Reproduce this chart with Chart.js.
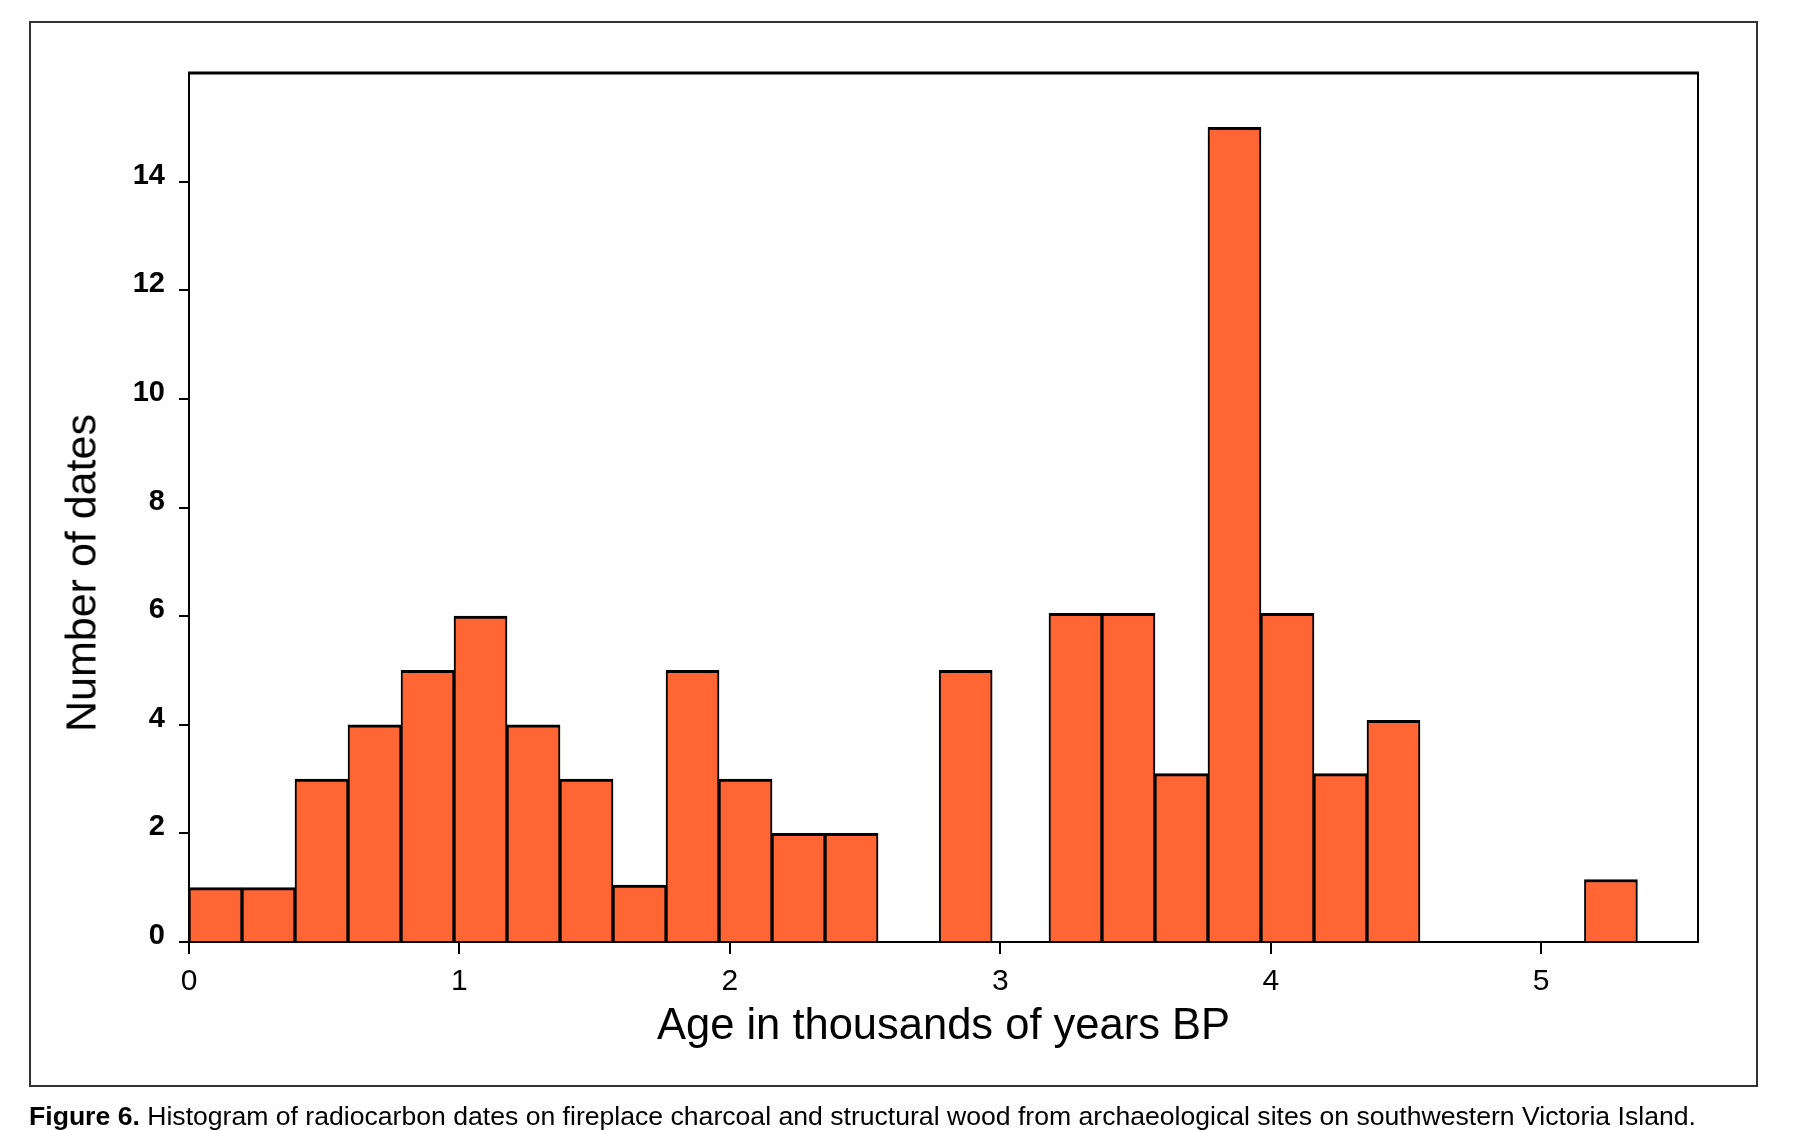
<!DOCTYPE html>
<html>
<head>
<meta charset="utf-8">
<title>Radiocarbon dates histogram</title>
<script src="https://cdn.jsdelivr.net/npm/chart.js"></script>
<style>
  body { margin: 0; background: #fff; }
  #wrap { position: relative; width: 1817px; height: 1130px; overflow: hidden; font-family: "Liberation Sans", Arial, sans-serif; color: #000; }
  #frame { position: absolute; left: 29px; top: 21px; width: 1729px; height: 1066px; border: 2px solid #333; box-sizing: border-box; }
  #histChart { position: absolute; left: 0; top: 0; }
  #yTitle { position: absolute; left: 81px; top: 573px; transform: translate(-50%, -50%) rotate(-90deg); font-size: 43px; line-height: 1; white-space: nowrap; }
  #caption { position: absolute; left: 29px; top: 1103px; font-size: 26.6px; line-height: 1; white-space: nowrap; }
</style>
</head>
<body>
<div id="wrap">
  <div id="frame"></div>
  <canvas id="histChart" width="1817" height="1130"></canvas>
  <div id="yTitle">Number of dates</div>
  <div id="caption"><b>Figure 6.</b> Histogram of radiocarbon dates on fireplace charcoal and structural wood from archaeological sites on southwestern Victoria Island.</div>
</div>
<script>
// DATA - bin centres in thousands of years BP
var binCentres = [0.098, 0.294, 0.49, 0.686, 0.882, 1.078, 1.274, 1.47, 1.666, 1.862, 2.058, 2.254, 2.45,
                  2.872,
                  3.278, 3.474, 3.67, 3.866, 4.062, 4.258, 4.454,
                  5.258];
// number of dates in each bin
var dateCounts = [1, 1, 3, 4, 5, 6, 4, 3, 1.05, 5, 3, 2, 2,
                  5,
                  6.05, 6.05, 3.1, 15, 6.05, 3.1, 4.08,
                  1.15];
var xTickValues = [0, 1, 2, 3, 4, 5];
var yTickValues = [0, 2, 4, 6, 8, 10, 12, 14];

var barPoints = [];
for (var i = 0; i < binCentres.length; i++) {
  barPoints.push({ x: binCentres[i], y: dateCounts[i] });
}

// top + right edges of the plot box (axes draw left + bottom)
var plotFrame = {
  id: 'plotFrame',
  afterDatasetsDraw: function(chart) {
    var ctx = chart.ctx;
    var a = chart.chartArea;
    ctx.save();
    ctx.strokeStyle = '#000';
    ctx.lineWidth = 3;
    ctx.beginPath();
    ctx.moveTo(a.left - 1, a.top);
    ctx.lineTo(a.right + 1, a.top);
    ctx.stroke();
    ctx.lineWidth = 2;
    ctx.beginPath();
    ctx.moveTo(a.right, a.top);
    ctx.lineTo(a.right, a.bottom);
    ctx.stroke();
    ctx.restore();
  }
};

var font = 'Liberation Sans';

var chart = new Chart(document.getElementById('histChart'), {
  type: 'bar',
  data: {
    datasets: [{
      label: 'Number of dates',
      data: barPoints,
      backgroundColor: '#FF6633',
      borderColor: '#000',
      borderWidth: { top: 3, left: 2, right: 2, bottom: 0 },
      borderSkipped: 'start',
      barPercentage: 1.0,
      categoryPercentage: 1.0
    }]
  },
  options: {
    responsive: false,
    animation: false,
    devicePixelRatio: 1,
    layout: { padding: { top: 73, right: 119, left: 0, bottom: 0 } },
    plugins: {
      legend: { display: false },
      tooltip: { enabled: false }
    },
    scales: {
      x: {
        type: 'linear',
        min: 0,
        max: 5.58,
        bounds: 'data',
        offset: false,
        afterBuildTicks: function(axis) {
          axis.ticks = xTickValues.map(function(v) { return { value: v }; });
        },
        afterFit: function(axis) { axis.height = 188; },
        grid: { display: true, offset: false, drawOnChartArea: false, drawTicks: true, tickLength: 12, color: '#000', lineWidth: 2 },
        border: { display: true, color: '#000', width: 2 },
        ticks: { autoSkip: false, maxRotation: 0, padding: 10, color: '#000', font: { family: font, size: 30 } },
        title: {
          display: true,
          text: 'Age in thousands of years BP',
          color: '#000',
          font: { family: font, size: 43.5 },
          padding: { top: 0, bottom: 77 }
        }
      },
      y: {
        min: 0,
        max: 16,
        afterBuildTicks: function(axis) {
          axis.ticks = yTickValues.map(function(v) { return { value: v }; });
        },
        afterFit: function(axis) { axis.width = 189; },
        grid: { display: true, drawOnChartArea: false, drawTicks: true, tickLength: 10, color: '#000', lineWidth: 2 },
        border: { display: true, color: '#000', width: 2 },
        ticks: { autoSkip: false, padding: 14, labelOffset: -6, color: '#000', font: { family: font, size: 29, weight: 'bold' } }
      }
    }
  },
  plugins: [plotFrame]
});
</script>
</body>
</html>
